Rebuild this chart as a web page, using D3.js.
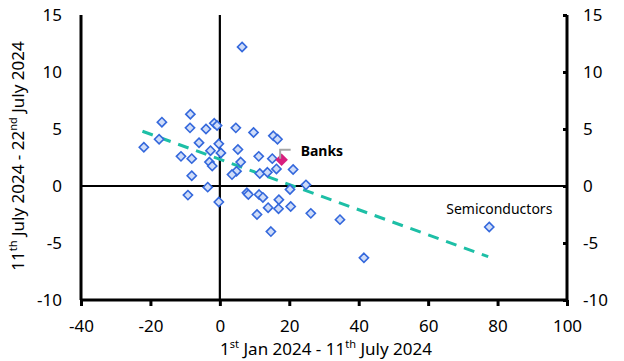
<!DOCTYPE html>
<html>
<head>
<meta charset="utf-8">
<script src="https://cdn.jsdelivr.net/npm/d3@7/dist/d3.min.js"></script>
<style>
  body { margin: 0; background: #fff; }
  text { font-family: "Noto Sans", "Open Sans", sans-serif; fill: #000; }
</style>
</head>
<body>
<div id="vis"></div>
<script>
// sector returns: x = 1st Jan - 11th July, y = 11th July - 22nd July
var xValues = [6.4, -16.7, -8.5, -8.6, -4.0, -1.6, -0.8, 4.6, 9.7, 15.4, 16.6, -17.5, -21.9, -6.0,
  -0.3, 5.2, -11.2, -8.1, -2.7, 0.3, 11.2, 15.1, -3.0, -2.2, 6.0, 21.1, 16.3, 4.8, 3.5, 11.5,
  13.7, -8.1, 24.8, -9.2, -3.5, -0.3, 7.8, 8.2, 11.3, 12.4, 17.0, 20.2, 13.9, 16.9, 20.4,
  10.7, 26.2, 34.6, 14.7, 41.5, 77.6];
var yValues = [12.2, 5.6, 6.3, 5.1, 5.0, 5.5, 5.3, 5.1, 4.7, 4.4, 4.1, 4.1, 3.4, 3.8,
  3.7, 3.2, 2.6, 2.4, 3.1, 2.9, 2.6, 2.4, 2.1, 1.75, 2.1, 1.45, 1.5, 1.3, 1.0, 1.1,
  1.2, 0.9, 0.1, -0.8, -0.1, -1.4, -0.6, -0.75, -0.75, -1.0, -1.2, -0.3, -1.9, -2.0, -1.8,
  -2.5, -2.4, -2.95, -4.0, -6.3, -3.6];

var banks = { name: "Banks", x: 17.8, y: 2.3 };
var semis = { name: "Semiconductors", x: 77.6, y: -3.6 };

// fitted trend line end points
var trendX = [-22.3, 77.3];
var trendY = [4.8, -6.2];

var xTicks = [-40, -20, 0, 20, 40, 60, 80, 100];
var yTicks = [-10, -5, 0, 5, 10, 15];

var W = 624, H = 361;
var m = { left: 81, right: 567, top: 15, bottom: 300 };

var svg = d3.select("#vis").append("svg")
  .attr("width", W)
  .attr("height", H);

var x = d3.scaleLinear().domain([-40, 100]).range([m.left, m.right]);
var y = d3.scaleLinear().domain([-10, 15]).range([m.bottom, m.top]);

var fmt = function(d) { return String(d); };

// zero lines
svg.append("line")
  .attr("x1", m.left).attr("x2", m.right)
  .attr("y1", y(0)).attr("y2", y(0))
  .attr("stroke", "#000").attr("stroke-width", 2.2);
svg.append("line")
  .attr("x1", x(0)).attr("x2", x(0))
  .attr("y1", m.top).attr("y2", m.bottom)
  .attr("stroke", "#000").attr("stroke-width", 2.2);

// trend line
svg.append("line")
  .attr("x1", x(trendX[0])).attr("y1", y(trendY[0]))
  .attr("x2", x(trendX[1])).attr("y2", y(trendY[1]))
  .attr("stroke", "#1dbfa6")
  .attr("stroke-width", 3)
  .attr("stroke-dasharray", "11,8");

var diamond = d3.symbol().type(d3.symbolDiamond2);

var pts = xValues.map(function(d, i) { return [d, yValues[i]]; });

svg.append("g").selectAll("path")
  .data(pts)
  .enter().append("path")
  .attr("d", diamond.size(54)())
  .attr("transform", function(d) { return "translate(" + x(d[0]) + "," + y(d[1]) + ")"; })
  .attr("fill", "#cfdcf8")
  .attr("stroke", "#3468dc")
  .attr("stroke-width", 1.6);

// banks highlighted
svg.append("path")
  .attr("d", diamond.size(100)())
  .attr("transform", "translate(" + x(banks.x) + "," + y(banks.y) + ")")
  .attr("fill", "#d81e7e");

svg.append("polyline")
  .attr("points", [[x(banks.x) - 1.5, y(banks.y) - 1], [x(banks.x) - 1.5, y(banks.y) - 10], [x(banks.x) + 9, y(banks.y) - 10]].join(" "))
  .attr("fill", "none")
  .attr("stroke", "#a6a6a6")
  .attr("stroke-width", 2);

svg.append("text")
  .attr("x", x(banks.x) + 19)
  .attr("y", y(banks.y) - 4)
  .style("font-size", "14px")
  .style("font-weight", "bold")
  .text(banks.name);

svg.append("text")
  .attr("x", x(semis.x) - 43)
  .attr("y", y(semis.y) - 13)
  .style("font-size", "14px")
  .text(semis.name);

// axes
var yLeft = svg.append("g")
  .attr("transform", "translate(" + m.left + ",0)")
  .call(d3.axisLeft(y).tickValues(yTicks).tickFormat(fmt).tickSize(0).tickPadding(19));
var yRight = svg.append("g")
  .attr("transform", "translate(" + m.right + ",0)")
  .call(d3.axisRight(y).tickValues(yTicks).tickFormat(fmt).tickSize(0).tickPadding(16));
var xAxis = svg.append("g")
  .attr("transform", "translate(0," + m.bottom + ")")
  .call(d3.axisBottom(x).tickValues(xTicks).tickFormat(fmt).tickSize(6).tickPadding(14));

// right axis has small inward ticks
yRight.selectAll(".tick line")
  .attr("x2", -4);

[yLeft, yRight, xAxis].forEach(function(a) {
  a.select(".domain").attr("stroke", "#000").attr("stroke-width", 3);
  a.selectAll(".tick line").attr("stroke", "#000").attr("stroke-width", 3);
  a.selectAll("text").style("font-size", "17px").attr("font-family", null);
});
yLeft.select(".domain").attr("d", "M0," + m.top + "V" + m.bottom);
yRight.select(".domain").attr("d", "M0," + m.top + "V" + m.bottom);
xAxis.select(".domain").attr("d", "M" + m.left + ",0H" + m.right);

// axis titles
var xt = svg.append("text")
  .attr("x", (m.left + m.right) / 2 + 2)
  .attr("y", 355)
  .attr("text-anchor", "middle")
  .style("font-size", "17px");
xt.append("tspan").text("1");
xt.append("tspan").attr("dy", -7).style("font-size", "11px").text("st");
xt.append("tspan").attr("dy", 7).text(" Jan 2024 - 11");
xt.append("tspan").attr("dy", -7).style("font-size", "11px").text("th");
xt.append("tspan").attr("dy", 7).text(" July 2024");

var yt = svg.append("text")
  .attr("transform", "translate(24," + 156 + ") rotate(-90)")
  .attr("text-anchor", "middle")
  .style("font-size", "17px");
yt.append("tspan").text("11");
yt.append("tspan").attr("dy", -7).style("font-size", "11px").text("th");
yt.append("tspan").attr("dy", 7).text(" July 2024 - 22");
yt.append("tspan").attr("dy", -7).style("font-size", "11px").text("nd");
yt.append("tspan").attr("dy", 7).text(" July 2024");
</script>
</body>
</html>
